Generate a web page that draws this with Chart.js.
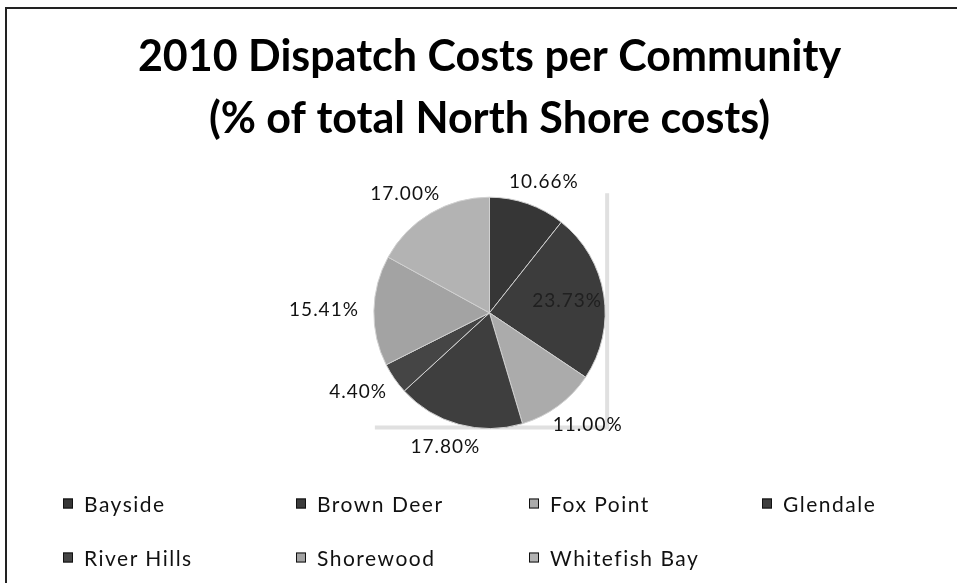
<!DOCTYPE html>
<html><head><meta charset="utf-8">
<script src="https://cdn.jsdelivr.net/npm/chart.js@4.4.1/dist/chart.umd.min.js"></script>
<style>
html,body{margin:0;padding:0;background:#fff;}
#wrap{position:relative;width:957px;height:583px;overflow:hidden;background:#fff;}
#frame{position:absolute;left:5px;top:7px;width:1000px;height:700px;border-left:2px solid #222;border-top:2px solid #222;}
#c{position:absolute;left:0;top:0;}
#legend{position:absolute;left:0;top:0;width:957px;height:583px;pointer-events:none;}
.li{position:absolute;font-family:Lato, sans-serif;font-size:21px;letter-spacing:1.5px;color:#111;display:flex;align-items:center;transform:translateY(-50%);white-space:nowrap;}
.sw{width:8px;height:8px;border:1px solid #111;margin-right:11px;}
</style></head>
<body>
<div id="wrap">
  <div id="frame"></div>
  <canvas id="c" width="957" height="583"></canvas>
  <div id="legend"></div>
</div>
<script>
const categories = ['Bayside','Brown Deer','Fox Point','Glendale','River Hills','Shorewood','Whitefish Bay'];
const shares = [10.66, 23.73, 11.00, 17.80, 4.40, 15.41, 17.00];
const valueLabels = ['10.66%','23.73%','11.00%','17.80%','4.40%','15.41%','17.00%'];
const titleLines = ['2010 Dispatch Costs per Community','(% of total North Shore costs)'];
const sliceColors = ['#363636','#3c3c3c','#ababab','#3e3e3e','#454545','#a3a3a3','#b3b3b3'];

const labelPlugin = {
  id: 'sliceLabels',
  afterDatasetsDraw(chart) {
    const ctx = chart.ctx;
    const meta = chart.getDatasetMeta(0);
    ctx.save();
    ctx.font = '19px Lato, sans-serif';
    ctx.letterSpacing = '1px';
    ctx.textAlign = 'center';
    ctx.textBaseline = 'middle';
    meta.data.forEach((el, i) => {
      const p = el.getProps(['x','y','startAngle','endAngle','outerRadius'], true);
      const mid = (p.startAngle + p.endAngle) / 2;
      const dx = Math.cos(mid), dy = Math.sin(mid);
      const txt = valueLabels[i];
      const w = ctx.measureText(txt).width, h = 16;
      let cx, cy;
      if (shares[i] > 20) {
        cx = p.x + dx * p.outerRadius * 0.68;
        cy = p.y + dy * p.outerRadius * 0.68;
        ctx.fillStyle = '#202020';
      } else {
        const d = p.outerRadius + 15;
        cx = p.x + dx * d + dx * w / 2;
        cy = p.y + dy * d + dy * h / 2;
        ctx.fillStyle = '#111';
      }
      ctx.fillText(txt, cx, cy);
    });
    ctx.restore();
  }
};

const framePlugin = {
  id: 'plotFrame',
  beforeDatasetsDraw(chart) {
    const meta = chart.getDatasetMeta(0);
    const el = meta.data[0];
    if (!el) return;
    const p = el.getProps(['x','y','outerRadius'], true);
    const ctx = chart.ctx;
    ctx.save();
    ctx.strokeStyle = '#e0e0e0';
    ctx.lineWidth = 4;
    ctx.beginPath();
    ctx.moveTo(p.x + p.outerRadius + 2, p.y - p.outerRadius - 4);
    ctx.lineTo(p.x + p.outerRadius + 2, p.y + p.outerRadius - 1);
    ctx.lineTo(p.x - p.outerRadius + 1, p.y + p.outerRadius - 1);
    ctx.stroke();
    ctx.restore();
  }
};

const chart = new Chart(document.getElementById('c'), {
  type: 'pie',
  data: {
    labels: categories,
    datasets: [{
      data: shares,
      backgroundColor: sliceColors,
      borderColor: '#d0d0d0',
      borderWidth: 1
    }]
  },
  options: {
    responsive: false,
    animation: false,
    layout: { padding: { top: 26, left: 22, right: 0, bottom: 154 } },
    plugins: {
      legend: { display: false },
      tooltip: { enabled: false },
      title: {
        display: true,
        text: titleLines,
        color: '#000',
        font: { family: 'Lato, sans-serif', size: 43, weight: 'bold', lineHeight: 1.45 },
        padding: { top: 0, bottom: 46 }
      }
    }
  },
  plugins: [framePlugin, labelPlugin]
});

// HTML legend built from the chart's legend items
const items = chart.options.plugins.legend.labels.generateLabels(chart);
const legendEl = document.getElementById('legend');
items.forEach((it, i) => {
  const col = i % 4, row = Math.floor(i / 4);
  const d = document.createElement('div');
  d.className = 'li';
  d.style.left = (63 + col * 233) + 'px';
  d.style.top = (503 + row * 54) + 'px';
  const sw = document.createElement('span');
  sw.className = 'sw';
  sw.style.background = it.fillStyle;
  d.appendChild(sw);
  d.appendChild(document.createTextNode(it.text));
  legendEl.appendChild(d);
});
</script>
</body></html>
